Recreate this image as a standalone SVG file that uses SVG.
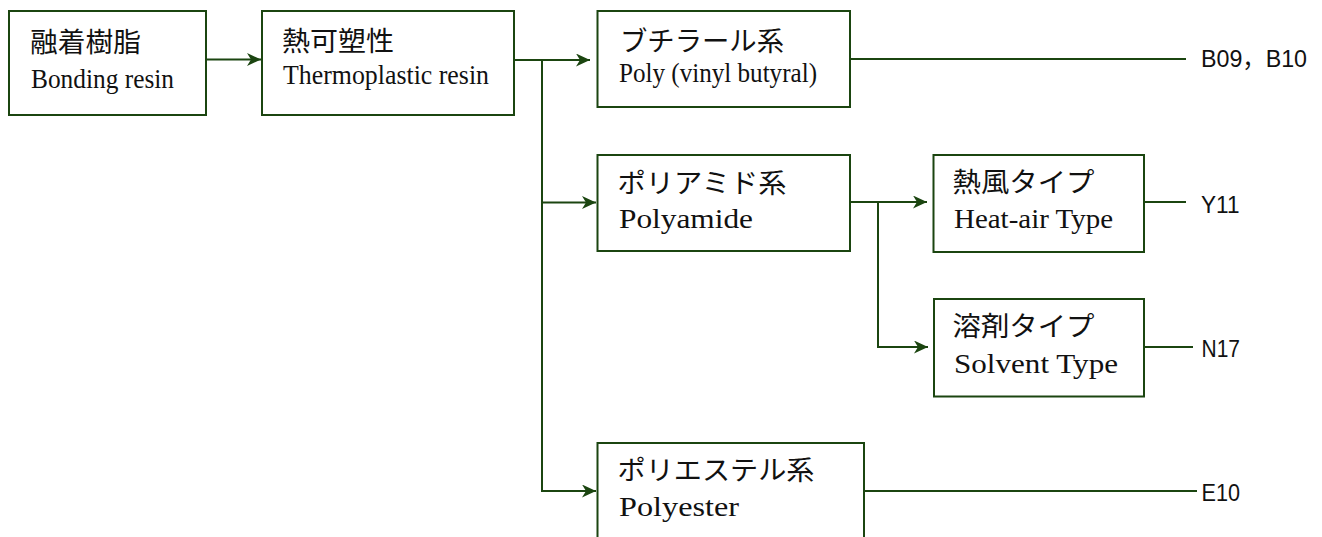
<svg xmlns="http://www.w3.org/2000/svg" width="1322" height="537" viewBox="0 0 1322 537">
<style>
.box{fill:#ffffff;stroke:#1b4510;stroke-width:2}
.ln{fill:none;stroke:#1b4510;stroke-width:2}
.jp{font-family:"Noto Sans CJK JP","Noto Sans",sans-serif;font-size:27px;fill:#111}
.en{font-family:"Liberation Serif","Times New Roman",serif;font-size:28px;fill:#111}
.code{font-family:"Liberation Sans","Noto Sans CJK JP",sans-serif;font-size:24px;fill:#111}
</style>
<defs>
<marker id="arr" markerUnits="userSpaceOnUse" markerWidth="16" markerHeight="14" refX="14" refY="6.5" orient="auto">
<path d="M0,0 L14,6.5 L0,13 L4,6.5 Z" fill="#1b4510"/>
</marker>
</defs>
<rect width="1322" height="537" fill="#ffffff"/>
<g id="connectors">
<path class="ln" d="M206,59.5 H261" marker-end="url(#arr)"/>
<path class="ln" d="M514,60 H590" marker-end="url(#arr)"/>
<path class="ln" d="M542,60 V491 H596" marker-end="url(#arr)"/>
<path class="ln" d="M542,202.5 H596" marker-end="url(#arr)"/>
<path class="ln" d="M850,202 H927" marker-end="url(#arr)"/>
<path class="ln" d="M878,202 V347 H928" marker-end="url(#arr)"/>
<path class="ln" d="M850,59 H1186"/>
<path class="ln" d="M1144,202 H1186"/>
<path class="ln" d="M1144,347 H1193"/>
<path class="ln" d="M864,491 H1197"/>
</g>
<g id="n1">
<rect class="box" x="9" y="11" width="197" height="104"/>
<text class="jp" x="30" y="52" textLength="111" lengthAdjust="spacingAndGlyphs">融着樹脂</text>
<text class="en" x="31" y="88" textLength="143" lengthAdjust="spacingAndGlyphs">Bonding resin</text>
</g>
<g id="n2">
<rect class="box" x="262" y="11" width="252" height="104"/>
<text class="jp" x="282" y="50.5" textLength="112" lengthAdjust="spacingAndGlyphs">熱可塑性</text>
<text class="en" x="283" y="83.5" textLength="206" lengthAdjust="spacingAndGlyphs">Thermoplastic resin</text>
</g>
<g id="n3">
<rect class="box" x="597.5" y="11" width="252.5" height="96"/>
<text class="jp" x="620" y="50.5" textLength="164" lengthAdjust="spacingAndGlyphs">ブチラール系</text>
<text class="en" x="619" y="81.7" textLength="198" lengthAdjust="spacingAndGlyphs">Poly (vinyl butyral)</text>
</g>
<g id="n4">
<rect class="box" x="597.5" y="155" width="252.5" height="96"/>
<text class="jp" x="617.5" y="193" textLength="169" lengthAdjust="spacingAndGlyphs">ポリアミド系</text>
<text class="en" x="619" y="228.3" textLength="134" lengthAdjust="spacingAndGlyphs">Polyamide</text>
</g>
<g id="n5">
<rect class="box" x="933.5" y="155" width="210.5" height="97"/>
<text class="jp" x="952.5" y="191.5" textLength="142" lengthAdjust="spacingAndGlyphs">熱風タイプ</text>
<text class="en" x="954" y="228.3" textLength="159" lengthAdjust="spacingAndGlyphs">Heat-air Type</text>
</g>
<g id="n6">
<rect class="box" x="934" y="299" width="210" height="97.5"/>
<text class="jp" x="952.5" y="336" textLength="142" lengthAdjust="spacingAndGlyphs">溶剤タイプ</text>
<text class="en" x="954" y="373" textLength="164" lengthAdjust="spacingAndGlyphs">Solvent Type</text>
</g>
<g id="n7">
<rect class="box" x="597.5" y="443" width="266.5" height="120"/>
<text class="jp" x="617.5" y="480" textLength="197" lengthAdjust="spacingAndGlyphs">ポリエステル系</text>
<text class="en" x="619" y="515.7" textLength="120" lengthAdjust="spacingAndGlyphs">Polyester</text>
</g>
<g id="labels">
<text class="code" x="1201" y="67.3" textLength="106" lengthAdjust="spacingAndGlyphs">B09，B10</text>
<text class="code" x="1201" y="213.3" textLength="38.5" lengthAdjust="spacingAndGlyphs">Y11</text>
<text class="code" x="1201.5" y="356.8" textLength="38.5" lengthAdjust="spacingAndGlyphs">N17</text>
<text class="code" x="1201.5" y="501" textLength="38.5" lengthAdjust="spacingAndGlyphs">E10</text>
</g>
</svg>
